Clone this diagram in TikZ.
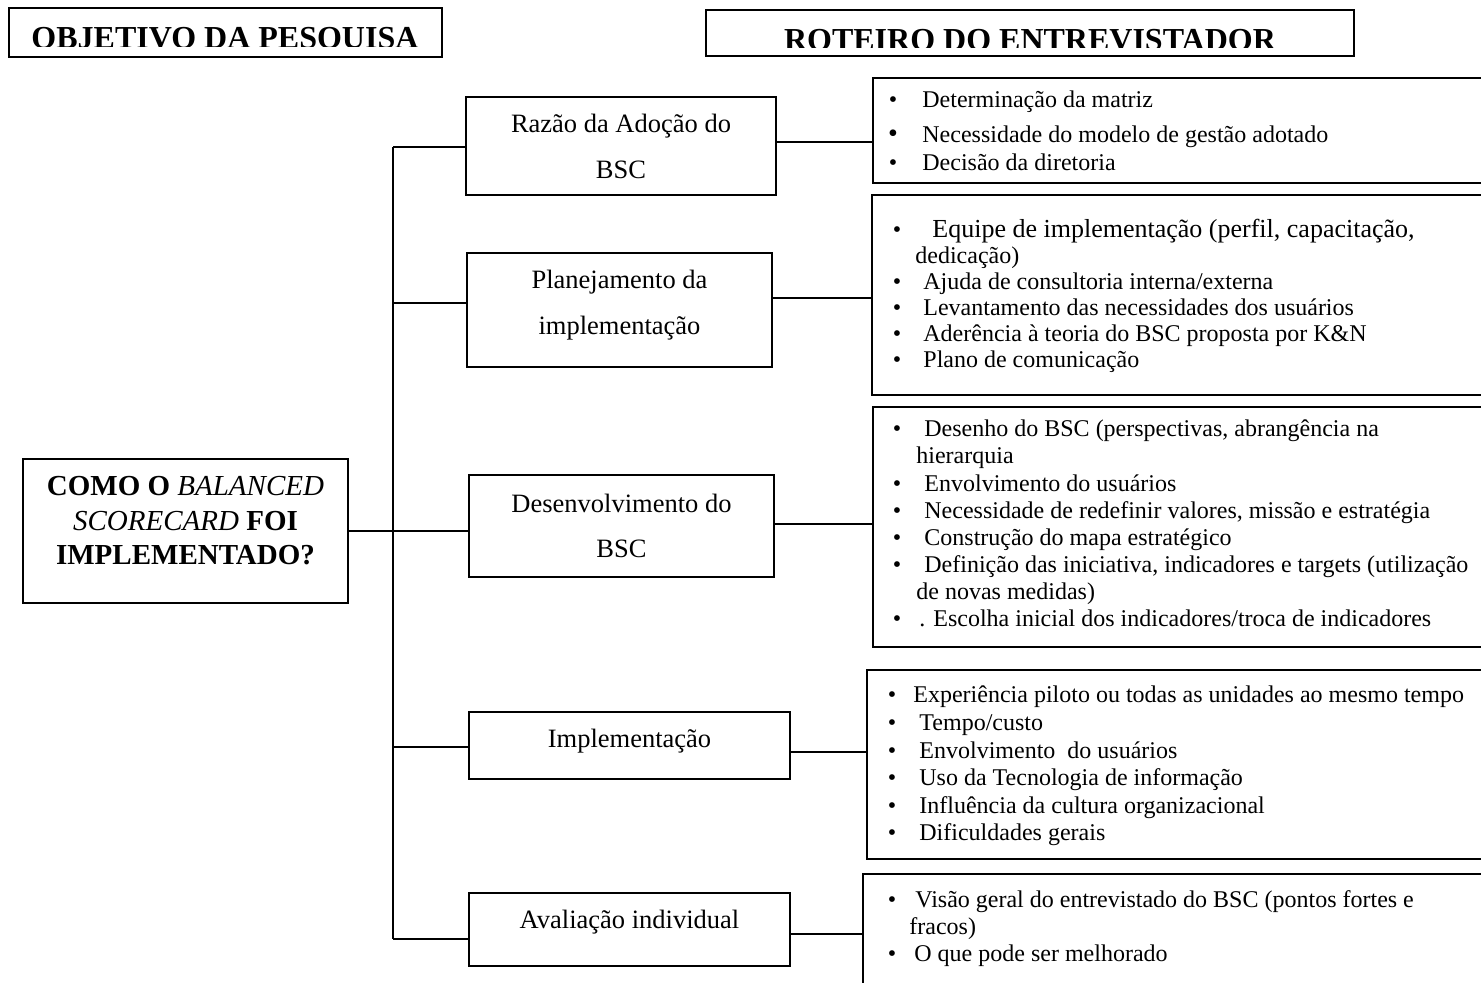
\documentclass[tikz,border=0pt]{standalone}
\usepackage{fontspec}
\setmainfont{Liberation Serif}
\begin{document}
\begin{tikzpicture}[x=0.5pt,y=-0.5pt,
  panel/.style={draw=black, line width=1pt, inner sep=0pt, outer sep=0pt},
  wire/.style={draw=black, line width=1pt},
  headtxt/.style={anchor=base, inner sep=0pt, font=\fontsize{16pt}{19pt}\selectfont\bfseries},
  maintxt/.style={anchor=base, inner sep=0pt, font=\fontsize{14.5pt}{17pt}\selectfont},
  midtxt/.style={anchor=base, inner sep=0pt, font=\fontsize{13.25pt}{15pt}\selectfont},
  item/.style={anchor=base west, inner sep=0pt, font=\fontsize{12pt}{14pt}\selectfont},
  bul/.style={anchor=base, inner sep=0pt, font=\fontsize{12pt}{14pt}\selectfont}]
\useasboundingbox (0,0) rectangle (1481,983);
\clip (0,0) rectangle (1481,983);

% column headings (text cut off at the bottom)
\node[panel, minimum width=216.5pt, minimum height=24.5pt] (hl) at (225.5,32.5) {};
\begin{scope}
  \clip (9,8) rectangle (442,47);
  \node[headtxt] (hlt) at (225,49) {OBJETIVO DA PESQUISA};
\end{scope}
\node[panel, minimum width=324pt, minimum height=23pt] (hr) at (1030,33) {};
\begin{scope}
  \clip (706,10) rectangle (1354,48);
  \node[headtxt] (hrt) at (1030,51) {ROTEIRO DO ENTREVISTADOR};
\end{scope}

% research question
\node[panel, minimum width=162.5pt, minimum height=72pt] (q) at (185.5,531) {};
\node[maintxt] (q1) at (185.5,495) {\textbf{COMO O} \textit{BALANCED}};
\node[maintxt] (q2) at (185.5,530) {\textit{SCORECARD} \textbf{FOI}};
\node[maintxt] (q3) at (185.5,564) {\textbf{IMPLEMENTADO?}};

% topics
\node[panel, minimum width=155pt, minimum height=49pt] (b1) at (621,146) {};
\node[midtxt] (b1a) at (621,133) {Razão da Adoção do};
\node[midtxt] (b1b) at (621,179) {BSC};

\node[panel, minimum width=152.5pt, minimum height=57pt] (b2) at (619.5,310) {};
\node[midtxt] (b2a) at (619.5,289) {Planejamento da};
\node[midtxt] (b2b) at (619.5,335) {implementação};

\node[panel, minimum width=152.5pt, minimum height=51pt] (b3) at (621.5,526) {};
\node[midtxt] (b3a) at (621.5,512) {Desenvolvimento do};
\node[midtxt] (b3b) at (621.5,557) {BSC};

\node[panel, minimum width=160.5pt, minimum height=33.5pt] (b4) at (629.5,745.5) {};
\node[midtxt] (b4a) at (629.5,747) {Implementação};

\node[panel, minimum width=160.5pt, minimum height=36.5pt] (b5) at (629.5,929.5) {};
\node[midtxt] (b5a) at (629.5,928) {Avaliação individual};

% interview items
\node[panel, minimum width=311pt, minimum height=52.5pt] (r1) at (1184,130.5) {};
\node[bul] (r1p1) at (893,108) {•};
\node[item] (r1t1) at (922,108) {Determinação da matriz};
\node[bul, font=\fontsize{14pt}{16pt}\selectfont] (r1p2) at (893,143) {•};
\node[item] (r1t2) at (922,143) {Necessidade do modelo de gestão adotado};
\node[bul] (r1p3) at (893,171) {•};
\node[item] (r1t3) at (922,171) {Decisão da diretoria};

\node[panel, minimum width=311.5pt, minimum height=100pt] (r2) at (1183.5,295) {};
\node[bul] (r2p1) at (897,238) {•};
\node[item, font=\fontsize{13pt}{15pt}\selectfont] (r2t1) at (932,238) {Equipe de implementação (perfil, capacitação,};
\node[item] (r2t2) at (915,264) {dedicação)};
\node[bul] (r2p3) at (897,290) {•};
\node[item] (r2t3) at (923,290) {Ajuda de consultoria interna/externa};
\node[bul] (r2p4) at (897,316) {•};
\node[item] (r2t4) at (923,316) {Levantamento das necessidades dos usuários};
\node[bul] (r2p5) at (897,342) {•};
\node[item] (r2t5) at (923,342) {Aderência à teoria do BSC proposta por K\&N};
\node[bul] (r2p6) at (897,368) {•};
\node[item] (r2t6) at (923,368) {Plano de comunicação};

\node[panel, minimum width=311pt, minimum height=120pt] (r3) at (1184,527) {};
\node[bul] (r3p1) at (897,437) {•};
\node[item] (r3t1) at (924,437) {Desenho do BSC (perspectivas, abrangência na};
\node[item] (r3t2) at (916,464) {hierarquia};
\node[bul] (r3p3) at (897,491) {•};
\node[item] (r3t3) at (924,491) {Envolvimento do usuários};
\node[bul] (r3p4) at (897,518) {•};
\node[item] (r3t4) at (924,518) {Necessidade de redefinir valores, missão e estratégia};
\node[bul] (r3p5) at (897,545) {•};
\node[item] (r3t5) at (924,545) {Construção do mapa estratégico};
\node[bul] (r3p6) at (897,572) {•};
\node[item] (r3t6) at (924,572) {Definição das iniciativa, indicadores e targets (utilização};
\node[item] (r3t7) at (916,599) {de novas medidas)};
\node[bul] (r3p8) at (897,626) {•};
\node[item] (r3t8) at (919,626) {. Escolha inicial dos indicadores/troca de indicadores};

\node[panel, minimum width=314pt, minimum height=94.5pt] (r4) at (1181,764.5) {};
\node[bul] (r4p1) at (892,702) {•};
\node[item] (r4t1) at (913,702) {Experiência piloto ou todas as unidades ao mesmo tempo};
\node[bul] (r4p2) at (892,730) {•};
\node[item] (r4t2) at (919,730) {Tempo/custo};
\node[bul] (r4p3) at (892,758) {•};
\node[item] (r4t3) at (919,758) {Envolvimento\ \ do usuários};
\node[bul] (r4p4) at (892,785) {•};
\node[item] (r4t4) at (919,785) {Uso da Tecnologia de informação};
\node[bul] (r4p5) at (892,813) {•};
\node[item] (r4t5) at (919,813) {Influência da cultura organizacional};
\node[bul] (r4p6) at (892,840) {•};
\node[item] (r4t6) at (919,840) {Dificuldades gerais};

\node[panel, minimum width=316pt, minimum height=63pt] (r5) at (1179,937) {};
\node[bul] (r5p1) at (892,907) {•};
\node[item] (r5t1) at (915,907) {Visão geral do entrevistado do BSC (pontos fortes e};
\node[item] (r5t2) at (909,934) {fracos)};
\node[bul] (r5p3) at (892,961) {•};
\node[item] (r5t3) at (914,961) {O que pode ser melhorado};

% tree connectors
\coordinate (t1) at (393,147);
\coordinate (t2) at (393,303);
\coordinate (t3) at (393,531);
\coordinate (t4) at (393,747);
\coordinate (t5) at (393,939);
\draw[wire] (t1) -- (t5);
\draw[wire] (q.east) -- (t3);
\draw[wire] (t1) -- (t1 -| b1.west);
\draw[wire] (t2) -- (t2 -| b2.west);
\draw[wire] (t3) -- (t3 -| b3.west);
\draw[wire] (t4) -- (t4 -| b4.west);
\draw[wire] (t5) -- (t5 -| b5.west);

\coordinate (c1) at ([yshift=2pt]b1.east);
\coordinate (c2) at ([yshift=6pt]b2.east);
\coordinate (c3) at ([yshift=1pt]b3.east);
\coordinate (c4) at ([yshift=-3.25pt]b4.east);
\coordinate (c5) at ([yshift=-2.25pt]b5.east);
\draw[wire] (c1) -- (c1 -| r1.west);
\draw[wire] (c2) -- (c2 -| r2.west);
\draw[wire] (c3) -- (c3 -| r3.west);
\draw[wire] (c4) -- (c4 -| r4.west);
\draw[wire] (c5) -- (c5 -| r5.west);
\end{tikzpicture}
\end{document}
